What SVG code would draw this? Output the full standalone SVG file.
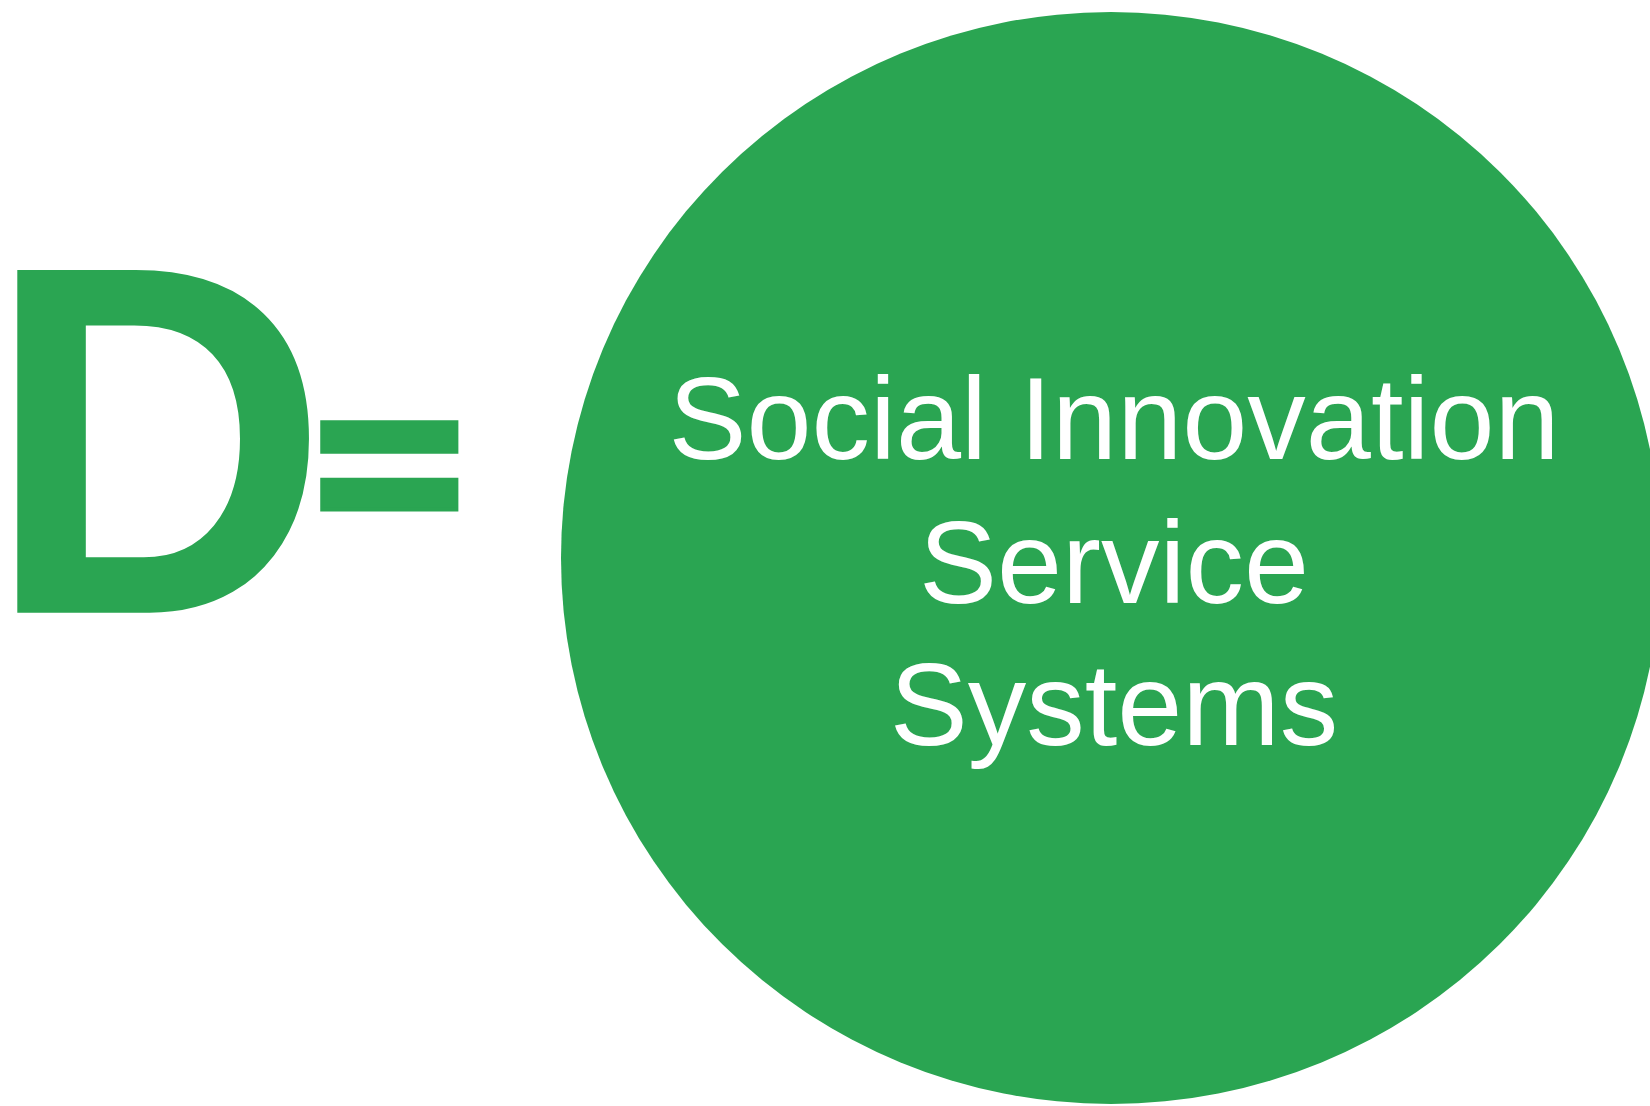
<svg xmlns="http://www.w3.org/2000/svg" width="1650" height="1106" viewBox="0 0 1650 1106">
<style>
.bg{fill:#ffffff}
.green{fill:#2AA552}
.big{font-family:"Liberation Sans",Arial,sans-serif;font-weight:bold;fill:#2AA552}
.eq{font-family:"DejaVu Sans",Verdana,sans-serif;font-weight:bold;fill:#2AA552;stroke:#2AA552;stroke-width:3.7;stroke-linejoin:miter}
.label{font-family:"Liberation Sans",Arial,sans-serif;font-size:117px;fill:#ffffff;text-anchor:middle}
</style>
<rect class="bg" x="0" y="0" width="1650" height="1106"/>
<g id="formula">
<text class="big" transform="translate(17 612.7) scale(0.955 1)" x="-33" y="0" font-size="498">D</text>
<text class="eq" transform="translate(320 547) scale(0.833 1)" x="-25.3" y="0" font-size="259">=</text>
</g>
<g id="social-innovation-service-systems">
<ellipse class="green" cx="1111" cy="558" rx="550" ry="546"/>
<text class="label" x="1114" y="459">Social Innovation</text>
<text class="label" x="1114" y="603">Service</text>
<text class="label" x="1114" y="745">Systems</text>
</g>
<g id="connectors"></g>
</svg>
